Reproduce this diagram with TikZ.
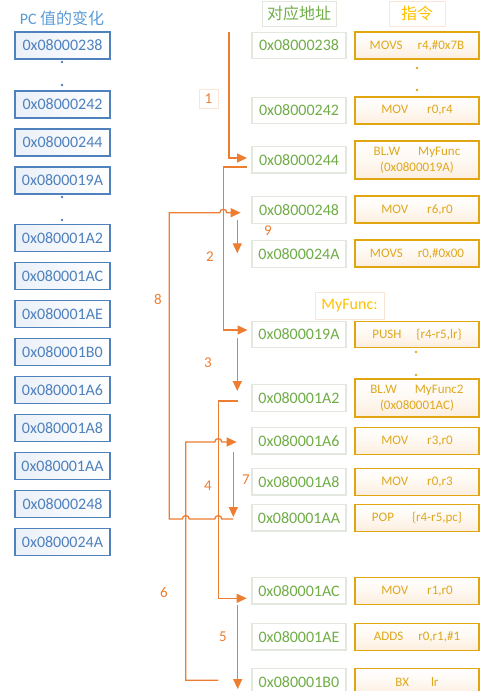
\documentclass[tikz,border=0pt]{standalone}
\usepackage{fontspec}
\setmainfont{Carlito}
\newfontfamily\cjk{Noto Sans CJK SC}
\usetikzlibrary{arrows.meta,calc}
\definecolor{pcborder}{RGB}{79,129,189}
\definecolor{pctext}{RGB}{79,129,189}
\definecolor{pctitle}{RGB}{91,155,213}
\definecolor{pcfill}{RGB}{234,240,249}
\definecolor{adborder}{RGB}{226,232,222}
\definecolor{adtext}{RGB}{112,173,71}
\definecolor{inborder}{RGB}{224,165,15}
\definecolor{intext}{RGB}{222,168,30}
\definecolor{infill}{RGB}{253,238,222}
\definecolor{gold}{RGB}{255,192,0}
\definecolor{flowc}{RGB}{237,125,49}
\definecolor{lightor}{RGB}{251,229,214}
\begin{document}
\begin{tikzpicture}[x=1pt,y=-1pt,
  pcbox/.style={draw=pcborder,line width=1.1pt,shading=axis,shading angle=60,
    left color=pcfill,right color=white,
    minimum width=95pt,minimum height=27pt,inner sep=0pt,text=pctext,
    font=\fontsize{16}{16}\selectfont},
  adbox/.style={draw=adborder,line width=1.1pt,fill=white,minimum width=94pt,
    minimum height=26.5pt,inner sep=0pt,text=adtext,font=\fontsize{16}{16}\selectfont},
  inbox/.style={draw=inborder,line width=1.1pt,bottom color=infill,top color=white,
    middle color=white!60!infill,inner sep=0pt,
    minimum width=124pt,minimum height=27pt,text=intext,align=center,
    font=\fontsize{13}{16.5}\selectfont},
  inbig/.style={inbox,minimum height=38pt},
  hdrbox/.style={draw=#1,line width=0.8pt,inner sep=0pt,minimum height=25pt},
  flow/.style={draw=flowc,line width=1.3pt,-{Triangle[length=10pt,width=9pt]}},
  lab/.style={text=flowc,font=\fontsize{15}{15}\selectfont,inner sep=0pt},
  dotp/.style={circle,fill=#1,inner sep=0pt,minimum size=2.6pt},
]
\useasboundingbox (0,0) rectangle (503,691);

% headers
\node[text=pctitle,font=\fontsize{16}{16}\selectfont] (t0) at (62,18) {PC {\cjk 值的变化}};
\node[hdrbox=adborder,minimum width=74pt,text=adtext,font=\cjk\fontsize{16}{16}\selectfont] (t1) at (299,13.5) {对应地址};
\node[hdrbox=lightor,minimum width=56pt,text=gold,font=\cjk\fontsize{16}{16}\selectfont] (t2) at (417,13.5) {指令};
\node[hdrbox=lightor,minimum width=69pt,minimum height=27pt,text=gold,font=\fontsize{16}{16}\selectfont] (t3) at (349.5,305.5) {MyFunc:};

% left column
\node[pcbox] (p1) at (62.5,45.5) {0x08000238};
\node[pcbox] (p2) at (62.5,104.5) {0x08000242};
\node[pcbox] (p3) at (62.5,142.5) {0x08000244};
\node[pcbox] (p4) at (62.5,180.5) {0x0800019A};
\node[pcbox] (p5) at (62.5,237.8) {0x080001A2};
\node[pcbox] (p6) at (62.5,275.8) {0x080001AC};
\node[pcbox] (p7) at (62.5,313.8) {0x080001AE};
\node[pcbox] (p8) at (62.5,351.8) {0x080001B0};
\node[pcbox] (p9) at (62.5,389.8) {0x080001A6};
\node[pcbox] (p10) at (62.5,427.8) {0x080001A8};
\node[pcbox] (p11) at (62.5,465.8) {0x080001AA};
\node[pcbox] (p12) at (62.5,503.8) {0x08000248};
\node[pcbox] (p13) at (62.5,541.8) {0x0800024A};
\node[dotp=pcborder] (pd1) at (62,62) {};
\node[dotp=pcborder] (pd2) at (62,85) {};
\node[dotp=pcborder] (pd3) at (62,197) {};
\node[dotp=pcborder] (pd4) at (62,220) {};

% address column
\node[adbox] (a1) at (299,45.5) {0x08000238};
\node[adbox] (a2) at (299,110.5) {0x08000242};
\node[adbox] (a3) at (299,159.7) {0x08000244};
\node[adbox] (a4) at (299,210) {0x08000248};
\node[adbox] (a5) at (299,254) {0x0800024A};
\node[adbox] (a6) at (299,334.5) {0x0800019A};
\node[adbox] (a7) at (299,397.8) {0x080001A2};
\node[adbox] (a8) at (299,440.7) {0x080001A6};
\node[adbox] (a9) at (299,481.7) {0x080001A8};
\node[adbox] (a10) at (299,517.7) {0x080001AA};
\node[adbox] (a11) at (299,590.7) {0x080001AC};
\node[adbox] (a12) at (299,636.7) {0x080001AE};
\node[adbox] (a13) at (299,682) {0x080001B0};

% instruction column
\node[inbox] (i1) at (417,45.5) {MOVS\hspace{15pt}r4,\#0x7B};
\node[inbox] (i2) at (417,110.5) {MOV\hspace{19pt}r0,r4};
\node[inbig] (i3) at (417,160) {BL.W\hspace{18pt}MyFunc\\(0x0800019A)};
\node[inbox] (i4) at (417,209.5) {MOV\hspace{19pt}r6,r0};
\node[inbox] (i5) at (417,253.5) {MOVS\hspace{15pt}r0,\#0x00};
\node[inbox,minimum height=25.5pt] (i6) at (417,334.5) {PUSH\hspace{15pt}\{r4-r5,lr\}};
\node[inbig] (i7) at (417,398) {BL.W\hspace{18pt}MyFunc2\\(0x080001AC)};
\node[inbox] (i8) at (417,440.7) {MOV\hspace{19pt}r3,r0};
\node[inbox] (i9) at (417,481.7) {MOV\hspace{19pt}r0,r3};
\node[inbox] (i10) at (417,517.7) {POP\hspace{18pt}\{r4-r5,pc\}};
\node[inbox] (i11) at (417,590.7) {MOV\hspace{19pt}r1,r0};
\node[inbox] (i12) at (417,636.7) {ADDS\hspace{15pt}r0,r1,\#1};
\node[inbox] (i13) at (417,682) {BX\hspace{22pt}lr};
\node[dotp=intext] (id1) at (417,68) {};
\node[dotp=intext] (id2) at (417,90) {};
\node[dotp=intext] (id3) at (416,352) {};
\node[dotp=intext] (id4) at (416,375) {};

% flow coordinates
\coordinate (s1) at (229,32);   \coordinate (e1) at (247,158);
\coordinate (s2) at (247,167);  \coordinate (c2) at (223.3,167); \coordinate (e2) at (247.5,330);
\coordinate (s9) at (237.3,220); \coordinate (e9) at (237.3,253.3);
\coordinate (s3) at (237.3,338); \coordinate (e3) at (237.3,391);
\coordinate (s4) at (237.7,401); \coordinate (c4) at (218.3,401); \coordinate (e4) at (246.7,598.3);
\coordinate (s5) at (237.7,605); \coordinate (e5) at (237.7,689);
\coordinate (s6) at (218.3,680.3); \coordinate (c6) at (185.7,680.3); \coordinate (d6) at (185.7,442); \coordinate (e6) at (236.7,442);
\coordinate (s7) at (233.3,451.7); \coordinate (e7) at (233.3,517);
\coordinate (s8) at (233.3,519); \coordinate (c8) at (169.3,519); \coordinate (d8) at (169.3,212.7); \coordinate (e8) at (240.7,212.7);

\draw[flow] (s1) |- (e1);
\draw[flow] (s2) -- (c2) |- (e2);
\draw[flow] (s9) -- (e9);
\draw[flow] (s3) -- (e3);
\draw[flow] (s4) -- (c4) |- (e4);
\draw[flow] (s5) -- (e5);
\draw[flow] (s6) -- (c6) -- (d6) -- (214.8,442) .. controls (214.8,437.5) and (221.8,437.5) .. (221.8,442) -- (e6);
\draw[flow] (s7) -- (e7);
\draw[flow] (s8) -- (221.8,519) .. controls (221.8,514.5) and (214.8,514.5) .. (214.8,519)
  -- (189.2,519) .. controls (189.2,514.5) and (182.2,514.5) .. (182.2,519)
  -- (c8) -- (d8) -- (219.8,212.7) .. controls (219.8,208.2) and (226.8,208.2) .. (226.8,212.7) -- (e8);

% labels
\node[lab,draw=lightor,line width=0.8pt,minimum width=19pt,minimum height=19pt] (l1) at (208.5,98.5) {1};
\node[lab] (l2) at (210,256.7) {2};
\node[lab] (l9) at (268,231) {9};
\node[lab] (l8) at (158,299) {8};
\node[lab] (l3) at (208,363) {3};
\node[lab] (l4) at (208,486) {4};
\node[lab] (l7) at (246,480) {7};
\node[lab] (l6) at (164,592) {6};
\node[lab] (l5) at (223,637) {5};
\end{tikzpicture}
\end{document}
